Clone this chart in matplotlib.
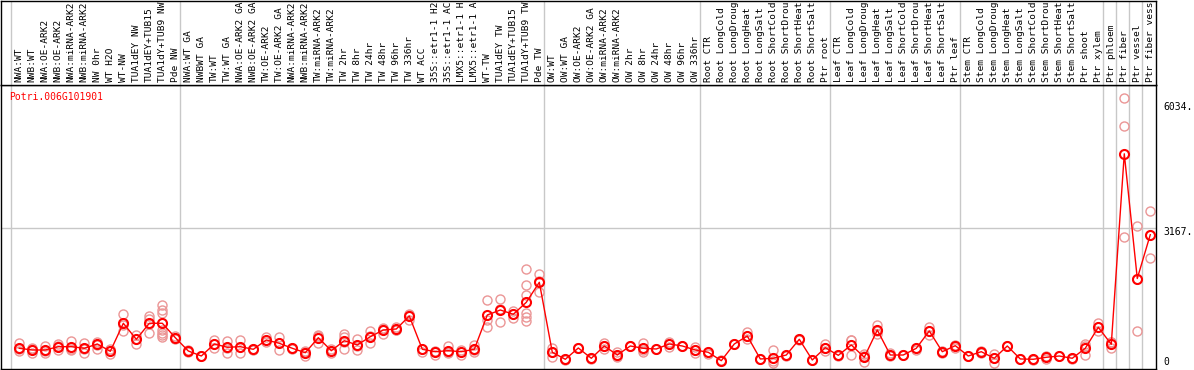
import numpy as np
import matplotlib.pyplot as plt

# sample names, in plotting order
labels = [
    "NWA:WT", "NWB:WT", "NWA:OE-ARK2", "NWB:OE-ARK2", "NWA:miRNA-ARK2", "NWB:miRNA-ARK2",
    "NW 0hr", "WT H2O", "WT-NW", "TUA1dEY NW", "TUA1dEY+TUB15 NW", "TUA1dY+TUB9 NW", "Pde NW",
    "NWA:WT GA", "NWBWT GA", "TW:WT", "TW:WT GA", "NWA:OE-ARK2 GA", "NWB:OE-ARK2 GA",
    "TW:OE-ARK2", "TW:OE-ARK2 GA", "NWA:miRNA-ARK2 GA", "NWB:miRNA-ARK2 GA", "TW:miRNA-ARK2",
    "TW:miRNA-ARK2 GA", "TW 2hr", "TW 8hr", "TW 24hr", "TW 48hr", "TW 96hr", "TW 336hr",
    "WT ACC", "35S::etr1-1 H2O", "35S::etr1-1 ACC", "LMX5::etr1-1 H2O", "LMX5::etr1-1 ACC",
    "WT-TW", "TUA1dEY TW", "TUA1dEY+TUB15 TW", "TUA1dY+TUB9 TW", "Pde TW",
    "OW:WT", "OW:WT GA", "OW:OE-ARK2", "OW:OE-ARK2 GA", "OW:miRNA-ARK2", "OW:miRNA-ARK2 GA",
    "OW 2hr", "OW 8hr", "OW 24hr", "OW 48hr", "OW 96hr", "OW 336hr",
    "Root CTR", "Root LongCold", "Root LongDrought", "Root LongHeat", "Root LongSalt",
    "Root ShortCold", "Root ShortDrought", "Root ShortHeat", "Root ShortSalt", "Ptr root",
    "Leaf CTR", "Leaf LongCold", "Leaf LongDrought", "Leaf LongHeat", "Leaf LongSalt",
    "Leaf ShortCold", "Leaf ShortDrought", "Leaf ShortHeat", "Leaf ShortSalt", "Ptr leaf",
    "Stem CTR", "Stem LongCold", "Stem LongDrought", "Stem LongHeat", "Stem LongSalt",
    "Stem ShortCold", "Stem ShortDrought", "Stem ShortHeat", "Stem ShortSalt", "Ptr shoot",
    "Ptr xylem", "Ptr phloem", "Ptr fiber", "Ptr vessel", "Ptr fiber vessel",
]
group_sizes = [13, 28, 12, 10, 10, 11, 1, 1, 1, 1]

means = [
    406, 367, 367, 443, 443, 406, 505, 337, 980, 612, 980, 980, 649,
    344, 229, 505, 429, 443, 383, 596, 521, 406, 305, 649, 351, 580, 482, 672, 826, 849,
    1147, 383, 328, 351, 328, 383, 1170, 1285, 1186, 1461, 1920,
    314, 154, 413, 177, 459, 252, 459, 406, 390, 505, 459, 367,
    314, 122, 505, 688, 161, 177, 252, 612, 138, 420,
    245, 482, 200, 826, 252, 252, 406, 803, 328, 466,
    229, 328, 177, 459, 161, 154, 200, 229, 177, 406, 888,
    498, 4868, 2007, 3012,
]

reps = [
    [535, 344, 400], [305, 420, 380], [466, 291, 345], [505, 367, 450], [580, 367, 390],
    [535, 305, 380], [557, 383, 480], [275, 400, 340], [1193, 803, 944], [711, 498, 630],
    [1147, 1071, 750, 960], [1399, 1285, 1209, 826, 750, 672, 720, 980], [688, 619, 640],
    [330, 360], [220, 240], [596, 413, 505], [573, 305, 410], [596, 305, 430], [370, 400],
    [665, 560], [672, 367, 520], [390, 420], [229, 330, 350], [688, 535, 700], [291, 380],
    [725, 672, 383, 560], [612, 367, 470], [810, 520, 690], [872, 734, 860], [903, 830, 820],
    [1050, 1180, 1200], [328, 400], [260, 350], [459, 305, 330], [260, 370], [482, 314, 360],
    [1514, 1056, 902], [1537, 1002, 1300], [1270, 1094, 1190],
    [2218, 1851, 1629, 1223, 1131, 1032], [2104, 1704, 1950],
    [406, 213, 320], [140, 170], [413, 420], [170, 190], [535, 383, 460], [328, 200, 230],
    [470, 450], [535, 328, 360], [380, 400], [440, 505, 560], [450, 470], [443, 291, 370],
    [280, 330], [110, 130], [510, 500], [780, 620, 680], [150, 170], [367, 61, 110],
    [240, 260], [600, 620], [130, 145], [500, 350, 410],
    [240, 250], [596, 252, 600], [280, 100, 220], [940, 800, 740], [300, 220], [250, 255],
    [360, 420], [700, 810, 900], [300, 340], [420, 480],
    [220, 235], [300, 340], [275, 80, 177], [450, 470], [150, 170], [145, 160], [160, 220],
    [220, 235], [170, 185], [252, 500, 466], [980, 800, 890],
    [413, 540, 540], [6140, 5511, 2952], [3211, 803, 2007], [3555, 2470, 3012],
]

gene = "Potri.006G101901"
ytick_vals = [6034, 3167, 0]
ytick_text = ["6034.", "3167.", "0"]
max_chars = 14  # the header only has room for this many characters

W, H = 1194, 370
mono = "DejaVu Sans Mono"
grey = "#c8c8c8"
pink = "#eb9696"

fig = plt.figure(figsize=(W / 100, H / 100), dpi=100)
ax = fig.add_axes([1 / W, 1 / H, 1155 / W, 284 / H])
top = fig.add_axes([1 / W, 285 / H, 1155 / W, 84.5 / H])

x = np.arange(len(labels))
xlim = (-1.41, 87.44)
for a in (ax, top):
    a.set_xlim(*xlim)
    a.set_xticks([])
    a.set_yticks([])
    for s in a.spines.values():
        s.set_color("black")
        s.set_linewidth(1)

# group separators
bounds = np.concatenate([[0], np.cumsum(group_sizes)[:-1]]) - 0.64
for b in bounds:
    ax.axvline(b, color=grey, lw=1, zorder=0)
    top.axvline(b, color=grey, lw=1, zorder=0)

ax.set_ylim(-69, 6446)
ax.axhline(3167, color=grey, lw=1, zorder=0)

# replicates, then mean line
for i, r in enumerate(reps):
    ax.plot([i] * len(r), r, "o", mfc="none", mec=pink, ms=6.5, mew=1, zorder=2)
ax.plot(x, means, "-", color="red", lw=1, zorder=3)
ax.plot(x, means, "o", mfc="none", mec="red", ms=6.5, mew=1.5, zorder=4)

ax.text(8 / 1155, 0.958, gene, transform=ax.transAxes, color="red",
        family=mono, fontsize=7, ha="left", va="center")

# value labels at the right
off = 92
tr = ax.get_yaxis_transform()
for v, t in zip(ytick_vals, ytick_text):
    yy = v - off if v > 0 else v + off
    ax.text(1 + 7 / 1155, yy, t, transform=tr, family=mono, fontsize=7,
            ha="left", va="center", clip_on=False)

# sample labels in the header box
top.set_ylim(0, 1)
for i, lab in enumerate(labels):
    top.text(i, 3 / 84.5, lab[:max_chars].rstrip(), rotation=90, ha="center",
             va="bottom", family=mono, fontsize=6.8, clip_on=True)

fig.savefig("out.png", dpi=100)
